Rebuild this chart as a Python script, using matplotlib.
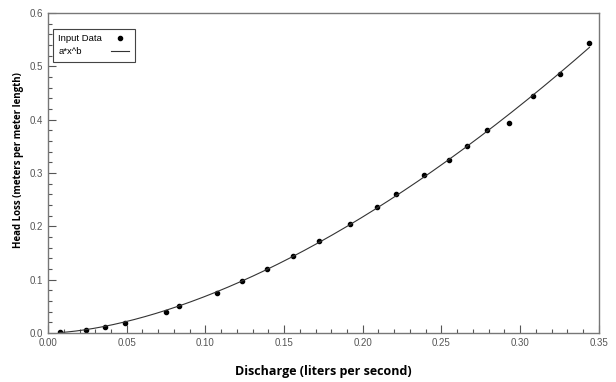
import numpy as np
import matplotlib
matplotlib.use("Agg")
import matplotlib.pyplot as plt
from matplotlib.ticker import MultipleLocator, FormatStrFormatter

discharge = [0.0076, 0.0241, 0.0362, 0.0491, 0.0748, 0.0834, 0.1072, 0.1230, 0.1391,
             0.1559, 0.1720, 0.1919, 0.2090, 0.2209, 0.2391, 0.2546, 0.2662, 0.2787,
             0.2927, 0.3079, 0.3253, 0.3441]
head_loss = [0.003, 0.006, 0.011, 0.019, 0.039, 0.051, 0.076, 0.098, 0.120,
             0.145, 0.173, 0.204, 0.236, 0.260, 0.296, 0.324, 0.350, 0.380,
             0.393, 0.445, 0.486, 0.544]

x = np.array(discharge)
y = np.array(head_loss)
# least-squares power fit y = a * x**b (linear space)
best = None
for bb in np.linspace(1.0, 2.5, 1501):
    xb = x ** bb
    aa = np.sum(y * xb) / np.sum(xb * xb)
    err = np.sum((y - aa * xb) ** 2)
    if best is None or err < best[0]:
        best = (err, aa, bb)
_, a, b = best
xf = np.linspace(x.min(), x.max(), 300)
yf = a * xf ** b

fig = plt.figure(figsize=(6.16, 3.82), dpi=100)
ax = fig.add_axes([0.078, 0.128, 0.894, 0.838])
ax.plot(x, y, 'o', color='black', markersize=3, label='Input Data')
ax.plot(xf, yf, '-', color='#333333', linewidth=0.8, label='a*x^b')

ax.set_xlim(0, 0.35)
ax.set_ylim(0, 0.6)
ax.xaxis.set_major_locator(MultipleLocator(0.05))
ax.xaxis.set_minor_locator(MultipleLocator(0.01))
ax.yaxis.set_major_locator(MultipleLocator(0.1))
ax.yaxis.set_minor_locator(MultipleLocator(0.02))
ax.xaxis.set_major_formatter(FormatStrFormatter('%.2f'))
ax.yaxis.set_major_formatter(FormatStrFormatter('%.1f'))
ax.tick_params(which='both', direction='in', top=False, right=False,
               colors='#555555', labelsize=7, width=0.8)
ax.tick_params(which='major', length=6)
ax.tick_params(which='minor', length=3)
for lab in ax.get_xticklabels() + ax.get_yticklabels():
    lab.set_family('Liberation Sans')
for s in ax.spines.values():
    s.set_color('#777777')
    s.set_linewidth(1.0)

ax.set_xlabel('Discharge (liters per second)', fontsize=9, fontweight='bold',
              family='Open Sans', labelpad=12)
ax.set_ylabel('Head Loss (meters per meter length)', fontsize=7, fontweight='bold',
              family='Open Sans')
ax.yaxis.set_label_coords(-0.043, 0.54)

leg = ax.legend(loc='upper left', bbox_to_anchor=(0.009, 0.95), borderaxespad=0,
                markerfirst=False,
                fancybox=False, edgecolor='#444444', framealpha=1,
                prop={'family': 'Liberation Sans', 'size': 6.8}, handlelength=2.0,
                borderpad=0.55, labelspacing=0.45, handletextpad=0.9)
leg.get_frame().set_linewidth(0.8)

# left-align legend texts while keeping handles aligned
renderer = fig.canvas.get_renderer()
texts = leg.get_texts()
widths = [t.get_window_extent(renderer).width for t in texts]
wmax = max(widths)
pt2px = fig.dpi / 72.0
for col in leg._legend_handle_box.get_children():
    col.align = 'left'
    for item, w in zip(col.get_children(), widths):
        item.sep = item.sep + (wmax - w) / pt2px

fig.savefig('out.png', dpi=100)
